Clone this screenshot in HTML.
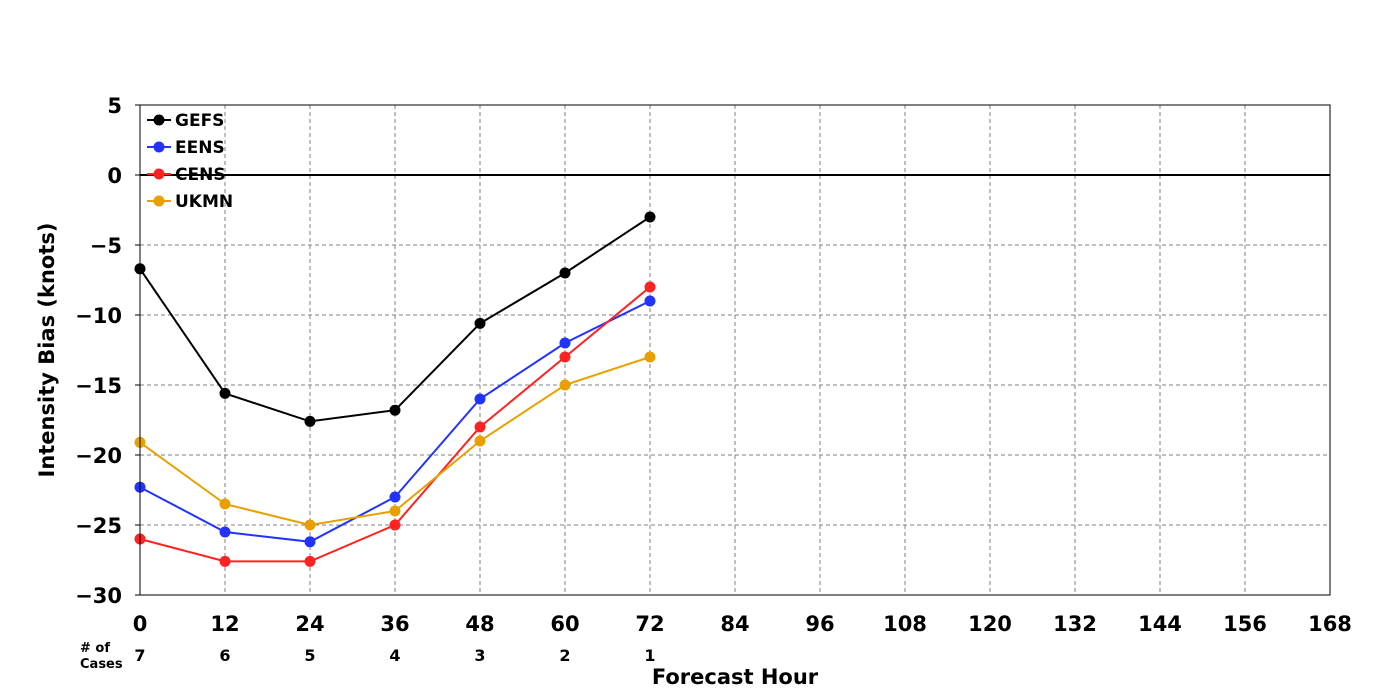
<!DOCTYPE html>
<html><head><meta charset="utf-8"><style>
body{margin:0;background:#fff;}
svg{display:block;font-family:"DejaVu Sans","Liberation Sans",sans-serif;font-weight:bold;}
</style></head><body>
<svg id="chart" width="1400" height="700">
<g id="grid"></g>
<g id="series"></g>
<g id="axes"></g>
<g id="legend"></g>
</svg>
<script>
const hours=[0,12,24,36,48,60,72];
const gefs=[-6.7,-15.6,-17.6,-16.8,-10.6,-7,-3];
const eens=[-22.3,-25.5,-26.2,-23,-16,-12,-9];
const cens=[-26,-27.6,-27.6,-25,-18,-13,-8];
const ukmn=[-19.1,-23.5,-25,-24,-19,-15,-13];
const cases=[7,6,5,4,3,2,1];
const xTicks=[0,12,24,36,48,60,72,84,96,108,120,132,144,156,168];
const yTicks=[5,0,-5,-10,-15,-20,-25,-30];
const L=140,R=1330,T=105,B=595;
const xs=h=>L+(h-0)/168*(R-L);
const ys=v=>T+(5-v)/35*(B-T);
const NS='http://www.w3.org/2000/svg';
function mk(tag,attrs,parent,text){const e=document.createElementNS(NS,tag);for(const k in attrs)e.setAttribute(k,attrs[k]);if(text!==undefined)e.textContent=text;parent.appendChild(e);return e;}
const grid=document.getElementById('grid'),axes=document.getElementById('axes'),ser=document.getElementById('series'),leg=document.getElementById('legend');
xTicks.forEach(t=>{if(t>0&&t<168){const l=mk('line',{x1:xs(t),x2:xs(t),y1:T,y2:B,stroke:'#808080','stroke-dasharray':'4,3','stroke-width':1},grid);

}
const tx=mk('text',{x:xs(t),y:B+36,'text-anchor':'middle','font-size':21},axes,t);

});
yTicks.forEach(t=>{if(t<5&&t>-30&&t!==0){const l=mk('line',{x1:L,x2:R,y1:ys(t),y2:ys(t),stroke:'#808080','stroke-dasharray':'4,3','stroke-width':1},grid);

}
const tx=mk('text',{x:L-18,y:ys(t)+8,'text-anchor':'end','font-size':21},axes,t<0?'\u2212'+(-t):t);


const tk=mk('line',{x1:L-5,x2:L,y1:ys(t),y2:ys(t),stroke:'#000'},axes);

});
const zl=mk('line',{x1:L,x2:R,y1:ys(0),y2:ys(0),stroke:'#000','stroke-width':2},grid);


const fr=mk('rect',{x:L,y:T,width:R-L,height:B-T,fill:'none',stroke:'#000','stroke-width':1},axes);


const S=[['GEFS',gefs,'#000000'],['EENS',eens,'#2233ff'],['CENS',cens,'#ff2222'],['UKMN',ukmn,'#e8a000']];
S.forEach(([n,v,c],i)=>{const g=mk('g',{},ser);


mk('polyline',{points:v.map((y,j)=>xs(hours[j])+','+ys(y)).join(' '),fill:'none',stroke:c,'stroke-width':2},g);
v.forEach((y,j)=>{const p=mk('circle',{cx:xs(hours[j]),cy:ys(y),r:5.5,fill:c},g);

});
const ly=120+i*27;const lg=mk('g',{},leg);


mk('line',{x1:147,x2:171,y1:ly,y2:ly,stroke:c,'stroke-width':2},lg);
mk('circle',{cx:159,cy:ly,r:5.5,fill:c},lg);
mk('text',{x:175,y:ly+6,'font-size':17},lg,n);});
cases.forEach((c,j)=>{const t=mk('text',{x:xs(hours[j]),y:661,'text-anchor':'middle','font-size':16},axes,c);

});
let t=mk('text',{x:80,y:652,'font-size':13},axes,'# of');


t=mk('text',{x:80,y:668,'font-size':13},axes,'Cases');


t=mk('text',{x:735,y:684,'text-anchor':'middle','font-size':21},axes,'Forecast Hour');


t=mk('text',{x:54,y:350,'text-anchor':'middle','font-size':21,transform:'rotate(-90 54 350)'},axes,'Intensity Bias (knots)');


</script>
</body></html>
